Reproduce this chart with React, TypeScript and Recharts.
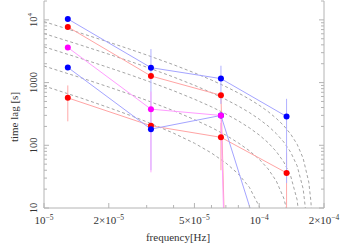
import React from 'react';
import { ComposedChart, Line, XAxis, YAxis, ErrorBar, Label } from 'recharts';

// measured points
const freqs = [1.29e-5, 3.14e-5, 6.64e-5, 1.34e-4];
const blueA = [10350, 1730, 1157, 288];
const blueAErr = [null, 1690, 700, 263];
const blueB = [1747, 181, 299, 0.14];
const redA = [7730, 1274, 628, 1e-36];
const redB = [571, 205, 134, 36.3];
const redBErr = [[330, 330], null, [94, 94], [26.3, 40]];
const magenta = [3630, 377, 299, 1e-36];
const magentaErr = [null, [340, 340], null, null];

// dashed model curves: [frequency, lag]
const curve1 = [[1e-5, 9381], [1.5e-5, 6068], [2e-5, 4411], [2.5e-5, 3417], [3e-5, 2754], [4e-5, 1926], [5e-5, 1429], [6e-5, 1098], [7e-5, 861], [8e-5, 683], [9e-5, 545], [1e-4, 435], [1.1e-4, 345], [1.2e-4, 269], [1.3e-4, 206], [1.4e-4, 151], [1.5e-4, 104], [1.6e-4, 62], [1.7e-4, 25.7], [1.74e-4, 12.3], [1.76e-4, 5.8]];
const curve2 = [[1e-5, 6050], [1.5e-5, 3906], [2e-5, 2834], [2.5e-5, 2191], [3e-5, 1762], [4e-5, 1226], [5e-5, 905], [6e-5, 690], [7e-5, 537], [8e-5, 422], [9e-5, 333], [1e-4, 261], [1.1e-4, 203], [1.2e-4, 154], [1.3e-4, 113], [1.4e-4, 77.7], [1.5e-4, 47.1], [1.6e-4, 20.3], [1.65e-4, 8.1]];
const curve3 = [[1e-5, 3720], [1.5e-5, 2396], [2e-5, 1734], [2.5e-5, 1337], [3e-5, 1072], [4e-5, 741], [5e-5, 543], [6e-5, 411], [7e-5, 316], [8e-5, 245], [9e-5, 190], [1e-4, 146], [1.1e-4, 110], [1.2e-4, 79.7], [1.3e-4, 54.3], [1.4e-4, 32.4], [1.5e-4, 13.5], [1.55e-4, 5.0]];
const curve4 = [[1e-5, 1838], [1.5e-5, 1180], [2e-5, 850], [2.5e-5, 653], [3e-5, 521], [4e-5, 356], [5e-5, 257], [6e-5, 192], [7e-5, 145], [8e-5, 109], [9e-5, 81.9], [1e-4, 60], [1.1e-4, 42], [1.2e-4, 27], [1.3e-4, 14.4], [1.35e-4, 8.7]];
const curve5 = [[1e-5, 885], [1.5e-5, 561], [2e-5, 399], [2.5e-5, 302], [3e-5, 237], [4e-5, 156], [5e-5, 108], [6e-5, 75.3], [7e-5, 52.2], [8e-5, 34.9], [9e-5, 21.4], [1e-4, 10.6], [1.05e-4, 5.9]];

// ticks
const xTicks = [1e-5, 2e-5, 3e-5, 4e-5, 5e-5, 6e-5, 7e-5, 8e-5, 9e-5, 1e-4, 2e-4];
const xLabelTicks = [1e-5, 2e-5, 5e-5, 1e-4, 2e-4];
const xLabelBase = ['10', '2×10', '5×10', '10', '2×10'];
const xLabelExp = ['−5', '−5', '−5', '−4', '−4'];
const yTicks = [10, 20, 30, 40, 50, 60, 70, 80, 90, 100, 200, 300, 400, 500, 600, 700, 800, 900, 1000, 2000, 3000, 4000, 5000, 6000, 7000, 8000, 9000, 10000, 20000];
const yLabelTicks = [10, 100, 1000, 10000];
const yLabelBase = ['10', '100', '1000', '10'];
const yLabelExp = ['', '', '', '4'];

const FRAME = '#b4b4b4';
const FONT = '"Liberation Serif", "Times New Roman", serif';
const TEXT = '#333';

const pointRows = freqs.map((f, i) => ({
  f,
  blueA: blueA[i],
  blueAErr: blueAErr[i],
  blueB: blueB[i],
  redA: redA[i],
  redB: redB[i],
  redBErr: redBErr[i],
  magenta: magenta[i],
  magentaErr: magentaErr[i],
}));

const toRows = (c: number[][]) => c.map(([f, t]) => ({ f, t }));
const curves = [curve1, curve2, curve3, curve4, curve5].map(toRows);

const near = (a: number, b: number) => Math.abs(a - b) / b < 1e-6;

function BottomTick(props: any) {
  const { x, y, payload } = props;
  const v = payload.value;
  const li = xLabelTicks.findIndex((t) => near(v, t));
  const len = li >= 0 ? 5 : 3;
  return (
    <g>
      <line x1={x} x2={x} y1={y} y2={y - len} stroke={FRAME} />
      {li >= 0 && (
        <text x={x} y={y + 16} textAnchor="middle" fontFamily={FONT} fontSize={11} fill={TEXT}>
          {xLabelBase[li]}
          <tspan fontSize={7.5} dy={-4.5}>{xLabelExp[li]}</tspan>
        </text>
      )}
    </g>
  );
}

function TopTick(props: any) {
  const { x, y, payload } = props;
  const v = payload.value;
  const li = xLabelTicks.findIndex((t) => near(v, t));
  const len = li >= 0 ? 5 : 3;
  return <line x1={x} x2={x} y1={y} y2={y + len} stroke={FRAME} />;
}

function LeftTick(props: any) {
  const { x, y, payload } = props;
  const v = payload.value;
  const li = yLabelTicks.findIndex((t) => near(v, t));
  const len = li >= 0 ? 5 : 3;
  const bx = x - 7;
  return (
    <g>
      <line x1={x} x2={x + len} y1={y} y2={y} stroke={FRAME} />
      {li >= 0 && (
        <text x={bx} y={y} transform={`rotate(-90 ${bx} ${y})`} textAnchor="middle" fontFamily={FONT} fontSize={10.5} fill={TEXT}>
          {yLabelBase[li]}
          {yLabelExp[li] && <tspan fontSize={7} dy={-4.5}>{yLabelExp[li]}</tspan>}
        </text>
      )}
    </g>
  );
}

function RightTick(props: any) {
  const { x, y, payload } = props;
  const v = payload.value;
  const li = yLabelTicks.findIndex((t) => near(v, t));
  const len = li >= 0 ? 5 : 3;
  return <line x1={x} x2={x - len} y1={y} y2={y} stroke={FRAME} />;
}

const dot = (c: string) => ({ r: 3, fill: c, stroke: 'none', strokeWidth: 0 });

export default function App() {
  return (
    <div style={{ position: 'absolute', left: 0, top: 0 }}>
      <ComposedChart width={354} height={244} margin={{ top: 1, right: 0, bottom: 0, left: 0 }}>
        <XAxis
          xAxisId="b"
          type="number"
          dataKey="f"
          scale="log"
          domain={[1e-5, 2e-4]}
          allowDataOverflow
          ticks={xTicks}
          interval={0}
          tickSize={0}
          tickMargin={0}
          tick={<BottomTick />}
          axisLine={{ stroke: FRAME }}
          height={36}
          orientation="bottom"
        >
          <Label
            content={() => (
              <text x={178} y={241} textAnchor="middle" fontFamily={FONT} fontSize={11} fill={TEXT}>
                frequency[Hz]
              </text>
            )}
          />
        </XAxis>
        <XAxis
          xAxisId="t"
          type="number"
          dataKey="f"
          scale="log"
          domain={[1e-5, 2e-4]}
          allowDataOverflow
          ticks={xTicks}
          interval={0}
          tickSize={0}
          tickMargin={0}
          tick={<TopTick />}
          axisLine={{ stroke: FRAME }}
          height={0}
          orientation="top"
        />
        <YAxis
          yAxisId="l"
          type="number"
          scale="log"
          domain={[10, 20000]}
          allowDataOverflow
          ticks={yTicks}
          interval={0}
          tickSize={0}
          tickMargin={0}
          tick={<LeftTick />}
          axisLine={{ stroke: FRAME }}
          width={44}
          orientation="left"
        >
          <Label
            content={() => (
              <text x={18} y={117} transform="rotate(-90 18 117)" textAnchor="middle" fontFamily={FONT} fontSize={11} fill={TEXT}>
                time lag [s]
              </text>
            )}
          />
        </YAxis>
        <YAxis
          yAxisId="r"
          type="number"
          scale="log"
          domain={[10, 20000]}
          allowDataOverflow
          ticks={yTicks}
          interval={0}
          tickSize={0}
          tickMargin={0}
          tick={<RightTick />}
          axisLine={{ stroke: FRAME }}
          width={30}
          orientation="right"
        />

        {curves.map((c, i) => (
          <Line
            key={'c' + i}
            xAxisId="b"
            yAxisId="l"
            data={c}
            dataKey="t"
            type="linear"
            stroke="#9a9a9a"
            strokeWidth={0.9}
            strokeDasharray="3 2.5"
            dot={false}
            activeDot={false}
            isAnimationActive={false}
          />
        ))}

        <Line xAxisId="b" yAxisId="l" data={pointRows} dataKey="redA" stroke="#ffa4a4" strokeWidth={1} dot={dot('#ff0000')} activeDot={false} isAnimationActive={false} />
        <Line xAxisId="b" yAxisId="l" data={pointRows} dataKey="redB" stroke="#ffa4a4" strokeWidth={1} dot={dot('#ff0000')} activeDot={false} isAnimationActive={false}>
          <ErrorBar dataKey="redBErr" width={0} stroke="#ffa8a8" strokeWidth={1} direction="y" />
        </Line>
        <Line xAxisId="b" yAxisId="l" data={pointRows} dataKey="blueA" stroke="#a4a4ff" strokeWidth={1} dot={dot('#0000ff')} activeDot={false} isAnimationActive={false}>
          <ErrorBar dataKey="blueAErr" width={0} stroke="#b0b0ff" strokeWidth={1} direction="y" />
        </Line>
        <Line xAxisId="b" yAxisId="l" data={pointRows} dataKey="blueB" stroke="#a4a4ff" strokeWidth={1} dot={dot('#0000ff')} activeDot={false} isAnimationActive={false} />
        <Line xAxisId="b" yAxisId="l" data={pointRows} dataKey="magenta" stroke="#ff9cff" strokeWidth={1} dot={dot('#ff00ff')} activeDot={false} isAnimationActive={false}>
          <ErrorBar dataKey="magentaErr" width={0} stroke="#ffa8ff" strokeWidth={1} direction="y" />
        </Line>
      </ComposedChart>
    </div>
  );
}
